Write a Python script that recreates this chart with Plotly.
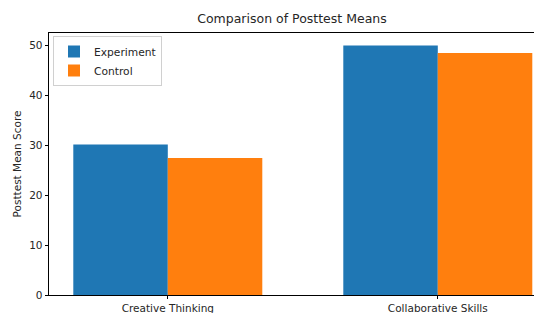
import plotly.graph_objects as go

categories = ["Creative Thinking", "Collaborative Skills"]
experiment = [30.1, 49.9]
control = [27.4, 48.4]
yticks = [0, 10, 20, 30, 40, 50]

xpos = list(range(len(categories)))

fig = go.Figure()
fig.add_trace(go.Bar(x=xpos, y=experiment, name="Experiment", marker_color="#1f77b4", marker_line_width=0))
fig.add_trace(go.Bar(x=xpos, y=control, name="Control", marker_color="#ff7f0e", marker_line_width=0))

# page body has an 8px default margin; compensate
OFF = 8
L, R, T, B = 49 - OFF, 0, 33 - OFF, 18
W, H = 542 - OFF, 313 - OFF
pw = W - L - R
ph = H - T - B

fig.update_layout(
    width=W, height=H,
    margin=dict(l=L, r=R, t=T, b=B, autoexpand=False),
    barmode="group", bargap=0.3, bargroupgap=0,
    paper_bgcolor="white", plot_bgcolor="white",
    font=dict(family="DejaVu Sans", size=10.5, color="#262626"),
    title=dict(text="Comparison of Posttest Means", x=(292 - 49) / pw, xref="paper", xanchor="center",
               y=1 - (19 - OFF) / H, yanchor="middle", font=dict(size=12.5, color="#262626")),
    legend=dict(x=4 / pw, y=1 - 3 / ph, xanchor="left", yanchor="top",
                bgcolor="white", bordercolor="#d0d0d0", borderwidth=1,
                font=dict(size=10.7), itemwidth=30, tracegroupgap=0),
    showlegend=True,
)
fig.update_xaxes(
    range=[-0.44, pw / 270 - 0.44],
    tickvals=xpos, ticktext=categories,
    showline=True, linecolor="black", linewidth=0.8, mirror=True,
    ticks="outside", ticklen=3.5, tickcolor="black", showgrid=False, zeroline=False,
)
fig.update_yaxes(
    range=[0, 52.4],
    tickvals=yticks,
    showline=True, linecolor="black", linewidth=0.8,
    ticks="outside", ticklen=3.5, tickcolor="black", showgrid=False, zeroline=False,
    title=dict(text="Posttest Mean Score", font=dict(size=10.5), standoff=5),
)
fig.write_html("out.html")
